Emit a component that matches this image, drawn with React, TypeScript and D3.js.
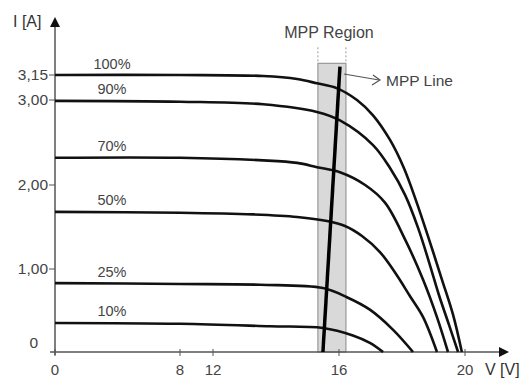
import React from "react";
import * as d3 from "d3";

// I-V curves for each irradiance level, [V, I]
const levels = ["100%", "90%", "70%", "50%", "25%", "10%"];
const curve100 = [[0, 3.15], [8, 3.15], [13.59, 3.144], [14.67, 3.126], [15.3, 3.1], [15.94, 3.07], [16.57, 3.0], [17.08, 2.82], [17.62, 2.53], [18.06, 2.2], [18.44, 1.82], [18.86, 1.35], [19.27, 0.87], [19.62, 0.45], [19.9, 0]];
const curve90 = [[0, 2.99], [8, 2.98], [13.59, 2.95], [15.3, 2.86], [16.03, 2.76], [17.08, 2.47], [17.62, 2.2], [18.1, 1.88], [18.51, 1.49], [18.86, 1.08], [19.17, 0.69], [19.49, 0.33], [19.78, 0]];
const curve70 = [[0, 2.32], [8, 2.32], [13.59, 2.29], [14.67, 2.26], [15.3, 2.21], [16.03, 2.15], [16.83, 2.0], [17.46, 1.79], [18.1, 1.35], [18.67, 0.87], [19.11, 0.42], [19.46, 0]];
const curve50 = [[0, 1.68], [8, 1.67], [13.27, 1.65], [14.67, 1.62], [15.62, 1.571], [16.19, 1.512], [16.73, 1.393], [17.3, 1.202], [17.81, 0.94], [18.25, 0.675], [18.67, 0.42], [19.11, 0]];
const curve25 = [[0, 0.83], [8, 0.82], [13.49, 0.81], [15.49, 0.77], [16.25, 0.66], [16.98, 0.51], [17.71, 0.27], [18.35, 0]];
const curve10 = [[0, 0.35], [8, 0.34], [13.81, 0.31], [15.49, 0.29], [16.44, 0.2], [16.98, 0.11], [17.4, 0]];
const curves = [curve100, curve90, curve70, curve50, curve25, curve10];

const xTicks = [0, 8, 12, 16, 20];
const yTicks = [1, 2, 3, 3.15];
const yTickLabels = ["1,00", "2,00", "3,00", "3,15"];

// MPP region (V range) and MPP line endpoints
const mppRegion = [15.33, 16.22];
const mppLine = [[15.49, 0], [16.03, 3.2]];

const W = 522;
const H = 380;
const font = "'Liberation Sans', Arial, sans-serif";

export default function App() {
  // the original axes are not to scale, so the scales are piecewise
  const x = d3.scaleLinear().domain([0, 8, 12, 16, 20]).range([55, 180, 213, 339, 465]);
  const y = d3.scaleLinear().domain([0, 1, 2, 3, 3.15]).range([352, 269, 185, 100, 75]);

  const line = d3
    .line<number[]>()
    .x(d => x(d[0]))
    .y(d => y(d[1]))
    .curve(d3.curveCatmullRom.alpha(0.5));

  const regionTop = y(3.22);
  const axisColor = "#555";

  return (
    <svg width={W} height={H} style={{ position: "absolute", left: 0, top: 0, background: "#fff" }}>
      {/* MPP region */}
      <rect
        x={x(mppRegion[0])}
        y={regionTop}
        width={x(mppRegion[1]) - x(mppRegion[0])}
        height={y(0) - regionTop}
        fill="#d9d9d9"
        stroke="#999"
        strokeWidth={1.2}
      />
      {mppRegion.map((v, i) => (
        <line key={'dash' + i} x1={x(v)} x2={x(v)} y1={regionTop - 16} y2={regionTop}
          stroke="#999" strokeWidth={1} strokeDasharray="2,2" />
      ))}
      <text x={(x(mppRegion[0]) + x(mppRegion[1])) / 2 - 3} y={38} textAnchor="middle"
        fontFamily={font} fontSize="16" fill="#444">MPP Region</text>

      {/* axes */}
      <line x1={50} x2={503} y1={y(0)} y2={y(0)} stroke={axisColor} strokeWidth={1.5} />
      <path d={`M509,${y(0)} L499,${y(0) - 5} L499,${y(0) + 5} Z`} fill="#111" />
      <line x1={x(0)} x2={x(0)} y1={y(0) + 3} y2={24} stroke={axisColor} strokeWidth={1.5} />
      <path d={`M${x(0)},17 L${x(0) - 5},27 L${x(0) + 5},27 Z`} fill="#111" />

      {xTicks.map(t => (
        <g key={'xt' + t}>
          <line x1={x(t)} x2={x(t)} y1={y(0) - 3} y2={y(0) + 4} stroke={axisColor} strokeWidth={1} />
          <text x={x(t)} y={375} textAnchor="middle" fontFamily={font} fontSize="15" fill="#444">{t}</text>
        </g>
      ))}
      {yTicks.map((t, i) => (
        <g key={'yt' + t}>
          <line x1={x(0) - 6} x2={x(0)} y1={y(t)} y2={y(t)} stroke={axisColor} strokeWidth={1} />
          <text x={x(0) - 7} y={y(t)} dy="0.35em" textAnchor="end" fontFamily={font} fontSize="15.5" fill="#444">
            {yTickLabels[i]}
          </text>
        </g>
      ))}
      <text x={38} y={y(0) - 9} dy="0.35em" textAnchor="end" fontFamily={font} fontSize="15.5" fill="#444">0</text>

      <text x={13} y={27} fontFamily={font} fontSize="16" fill="#333">I [A]</text>
      <text x={485} y={375} fontFamily={font} fontSize="16" fill="#333">V [V]</text>

      {/* curves */}
      {curves.map((c, i) => (
        <g key={'curve' + i}>
          <path d={line(c) || ""} fill="none" stroke="#111" strokeWidth={2.6} />
          <text x={112} y={y(c[0][1]) - 6.5} textAnchor="middle" fontFamily={font} fontSize="14.5" fill="#444">
            {levels[i]}
          </text>
        </g>
      ))}

      {/* MPP line */}
      <line x1={x(mppLine[0][0])} y1={y(mppLine[0][1])} x2={x(mppLine[1][0])} y2={y(mppLine[1][1])}
        stroke="#000" strokeWidth={3.5} />
      <line x1={344} y1={74} x2={379} y2={80} stroke="#555" strokeWidth={1.2} />
      <path d="M373,75 L380,80 L372,85" fill="none" stroke="#555" strokeWidth={1.2} />
      <text x={386} y={86} fontFamily={font} fontSize="15.5" fill="#444">MPP Line</text>
    </svg>
  );
}
